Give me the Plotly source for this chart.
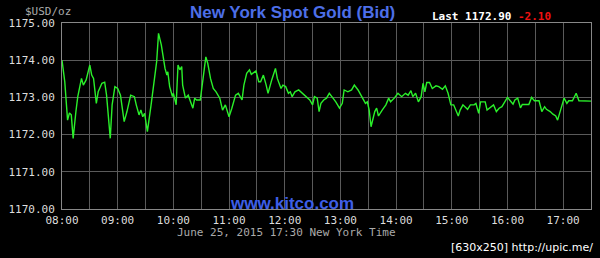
import plotly.graph_objects as go

DATE = "2015-06-25"
times = ["08:00","08:03","08:06","08:08","08:10","08:12","08:15","08:17","08:21","08:23","08:26","08:30","08:32","08:34","08:37","08:39","08:43","08:46","08:48","08:52","08:54","08:57",
"09:00","09:03","09:07","09:10","09:14","09:18","09:20","09:23","09:25","09:27","09:29","09:32","09:36","09:39","09:42","09:44","09:47","09:51","09:53","09:54","09:56","09:59",
"10:00","10:03","10:05","10:07","10:09","10:10","10:13","10:16","10:18","10:21","10:23","10:25","10:29","10:32","10:35","10:37","10:40","10:43","10:46","10:50","10:53","10:56",
"11:00","11:03","11:07","11:10","11:14","11:16","11:19","11:22","11:24","11:29","11:32","11:34","11:37","11:40","11:42","11:46","11:50","11:52","11:56","11:58",
"12:01","12:04","12:06","12:08","12:11","12:15","12:19","12:22","12:27","12:30","12:32","12:35","12:37","12:39","12:42","12:45","12:48","12:52","12:55","12:59",
"13:02","13:04","13:08","13:12","13:15","13:19","13:22","13:27","13:29","13:31","13:33","13:37","13:39","13:41","13:45","13:49","13:52","13:54","13:58",
"14:02","14:06","14:10","14:13","14:16","14:18","14:21","14:24","14:27","14:29","14:31","14:33","14:36","14:39","14:43","14:46","14:50","14:53","14:56","14:59",
"15:02","15:07","15:09","15:12","15:17","15:20","15:24","15:26","15:29","15:31","15:33","15:36","15:38","15:42","15:45","15:48","15:51","15:54","15:57",
"16:00","16:03","16:06","16:08","16:11","16:14","16:16","16:23","16:26","16:29","16:33","16:34","16:37","16:40","16:42","16:46","16:49","16:52","16:54","16:57","16:59",
"17:01","17:04","17:06","17:10","17:14","17:17","17:20","17:30"]
prices = [1174.00,1173.42,1172.39,1172.58,1172.53,1171.90,1172.62,1173.02,1173.51,1173.33,1173.47,1173.87,1173.60,1173.51,1172.84,1173.15,1173.38,1173.41,1173.06,1171.90,1172.80,1173.29,
1173.24,1173.06,1172.35,1172.62,1173.06,1173.02,1172.80,1172.53,1172.66,1172.48,1172.57,1172.08,1172.80,1173.33,1173.96,1174.72,1174.41,1173.78,1173.60,1173.69,1173.29,1173.02,
1173.11,1172.80,1173.87,1173.74,1173.83,1173.33,1172.98,1173.06,1172.93,1172.71,1172.98,1172.93,1172.93,1173.60,1174.09,1173.92,1173.51,1173.24,1173.15,1172.98,1172.66,1172.80,
1172.48,1172.71,1173.06,1173.11,1172.93,1173.33,1173.65,1173.74,1173.62,1173.71,1173.42,1173.42,1173.60,1173.33,1173.11,1173.47,1173.78,1173.51,1173.24,1173.33,
1173.29,1173.11,1173.15,1173.02,1173.15,1173.20,1173.11,1173.06,1172.93,1172.80,1173.02,1172.98,1172.62,1172.84,1172.93,1172.98,1173.11,1172.98,1172.88,1172.71,
1172.84,1173.20,1173.15,1173.20,1173.33,1173.20,1173.06,1172.84,1172.88,1172.66,1172.21,1172.62,1172.71,1172.50,1172.66,1172.80,1172.98,1172.88,1172.98,
1173.11,1173.02,1173.11,1173.06,1173.18,1173.02,1173.11,1172.88,1173.02,1173.38,1173.15,1173.40,1173.40,1173.24,1173.31,1173.29,1173.22,1173.31,1173.11,1172.80,
1172.80,1172.50,1172.66,1172.80,1172.68,1172.80,1172.80,1172.84,1172.57,1172.88,1172.88,1172.88,1172.66,1172.75,1172.80,1172.62,1172.71,1172.75,1172.88,
1173.00,1172.91,1172.82,1172.93,1172.98,1172.72,1172.81,1172.81,1173.00,1172.91,1172.91,1172.91,1172.62,1172.75,1172.68,1172.62,1172.55,1172.50,1172.39,1172.66,1172.84,
1172.98,1172.84,1172.91,1172.91,1173.11,1172.91,1172.91,1172.90]

y_ticks = [1170, 1171, 1172, 1173, 1174, 1175]
x_ticks = ["08:00","09:00","10:00","11:00","12:00","13:00","14:00","15:00","16:00","17:00"]
title_text = "New York Spot Gold (Bid)"
last_text = "Last 1172.90"
change_text = "-2.10"
unit_text = "$USD/oz"
footer_text = "June 25, 2015 17:30 New York Time"
site_text = "www.kitco.com"
tag_text = "[630x250] http://upic.me/"

W, H = 600, 258
L, R, T, B = 58, 8, 23, 49
pw, ph = W - L - R, H - T - B

def px(x):
    return (x - L) / pw

def py(y):
    return (H - B - y) / ph

MONO = "DejaVu Sans Mono"
x_vals = [f"{DATE} {t}" for t in times]

fig = go.Figure()
fig.add_trace(go.Scatter(x=x_vals, y=prices, mode="lines",
                         line=dict(color="#2af02a", width=1.4), hoverinfo="skip"))

fig.update_layout(
    width=W, height=H, margin=dict(l=L, r=R, t=T, b=B),
    paper_bgcolor="#000000", plot_bgcolor="#000000", showlegend=False,
    xaxis=dict(type="date", range=[f"{DATE} 08:00", f"{DATE} 17:30"],
               tickvals=[f"{DATE} {t}" for t in x_ticks], ticktext=x_ticks,
               showgrid=True, gridcolor="#5a5a5a", gridwidth=1,
               minor=dict(dtick=1800000, showgrid=True, gridcolor="#5a5a5a", gridwidth=1),
               showline=True, linecolor="#888888", linewidth=1, mirror=True,
               ticks="outside", ticklen=1, tickcolor="rgba(0,0,0,0)",
               tickfont=dict(family=MONO, size=11, color="#dddddd"),
               zeroline=False, fixedrange=True),
    yaxis=dict(range=[1170, 1175], tickvals=y_ticks, tickformat=".2f",
               showgrid=True, gridcolor="#5a5a5a", gridwidth=1,
               showline=True, linecolor="#888888", linewidth=1, mirror=True,
               ticks="outside", ticklen=4, tickcolor="rgba(0,0,0,0)",
               tickfont=dict(family=MONO, size=11, color="#dddddd"),
               zeroline=False, fixedrange=True),
)

ann = [
    dict(text=f"<b>{title_text}</b>", x=px(291), y=py(12), xanchor="center", yanchor="middle",
         font=dict(family="Liberation Sans", size=17, color="#4d6fe8")),
    dict(text=f"<b>{last_text}</b>", x=px(429), y=py(16), xanchor="left", yanchor="middle",
         font=dict(family=MONO, size=11, color="#ffffff")),
    dict(text=f"<b>{change_text}</b>", x=px(516), y=py(16), xanchor="left", yanchor="middle",
         font=dict(family=MONO, size=11, color="#ee1111")),
    dict(text=unit_text, x=px(19), y=py(11), xanchor="left", yanchor="middle",
         font=dict(family=MONO, size=11, color="#aaaaaa")),
    dict(text=f"<b>{site_text}</b>", x=px(290), y=py(203), xanchor="center", yanchor="middle",
         font=dict(family="Liberation Sans", size=17, color="#3d5ee6")),
    dict(text=footer_text, x=px(172), y=py(233), xanchor="left", yanchor="middle",
         font=dict(family=MONO, size=11, color="#aaaaaa")),
    dict(text=tag_text, x=px(596), y=py(247), xanchor="right", yanchor="middle",
         font=dict(family="DejaVu Sans", size=11, color="#ffffff")),
]
for a in ann:
    a.update(xref="paper", yref="paper", showarrow=False)
fig.update_layout(annotations=ann)

fig.write_html("out.html", config={"displayModeBar": False})
